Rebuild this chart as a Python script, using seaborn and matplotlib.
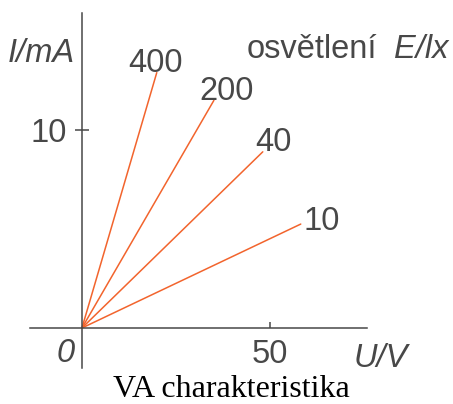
import matplotlib
matplotlib.use('Agg')
import matplotlib.pyplot as plt
import seaborn as sns
import pandas as pd

# illuminance E/lx of each curve and the end point of each line (U in V, I in mA)
lux = [400, 200, 40, 10]
u_end = [19.9, 35.1, 48.1, 58.2]
i_end = [12.9, 11.5, 8.9, 5.25]

x_ticks = [50]
y_ticks = [10]

# every characteristic starts in the origin
rows = []
for e, u, i in zip(lux, u_end, i_end):
    rows.append({'E': e, 'U': 0.0, 'I': 0.0})
    rows.append({'E': e, 'U': u, 'I': i})
df = pd.DataFrame(rows)

sns.set_style('white')
plt.rcParams['font.family'] = ['Liberation Sans', 'DejaVu Sans']

W, H = 453, 404
line_color = '#f2642d'
ink = '#484848'
fs = 23.5

fig = plt.figure(figsize=(W / 100, H / 100), dpi=100)
ax = fig.add_axes([0, 0, 1, 1])

sns.lineplot(data=df, x='U', y='I', hue='E', palette=[line_color] * len(lux),
             legend=False, ax=ax, linewidth=1.1)

ax.set_xlim(-21.8, 98.7)
ax.set_ylim(-3.84, 16.57)
ax.set_xlabel('')
ax.set_ylabel('')

# axes as a cross through the origin
for side in ['top', 'right']:
    ax.spines[side].set_visible(False)
ax.spines['left'].set_position(('data', 0))
ax.spines['bottom'].set_position(('data', 0))
ax.spines['left'].set_bounds(-2.0, 15.9)
ax.spines['bottom'].set_bounds(-13.8, 75.8)
for side in ['left', 'bottom']:
    ax.spines[side].set_color(ink)
    ax.spines[side].set_linewidth(1.1)

ax.set_xticks(x_ticks)
ax.set_xticklabels([str(t) for t in x_ticks])
ax.set_yticks(y_ticks)
ax.set_yticklabels([str(t) for t in y_ticks])
ax.tick_params(axis='y', direction='inout', length=9.4, width=1.1, color=ink,
               pad=6.5, labelsize=fs, labelcolor=ink, left=True)
ax.tick_params(axis='x', direction='in', length=4.3, width=1.1, color=ink,
               pad=8, labelsize=fs, labelcolor=ink, bottom=True)

# curve labels next to the line ends (offsets in pixels)
offsets = [(-29, 1), (-15, 0), (-8, 1), (3, -6)]
for e, u, i, (dx, dy) in zip(lux, u_end, i_end, offsets):
    ax.annotate(str(e), xy=(u, i), xytext=(dx * 0.72, dy * 0.72),
                textcoords='offset points', ha='left', va='baseline',
                fontsize=fs, color=ink)


def px(x, y):
    return x / W, 1 - y / H


fig.text(*px(8, 62), 'I/mA', fontsize=fs, style='italic', color=ink,
         ha='left', va='baseline')
fig.text(*px(66, 362), '0', fontsize=fs, style='italic', color=ink,
         ha='center', va='baseline')
fig.text(*px(354, 367), 'U/V', fontsize=fs, style='italic', color=ink,
         ha='left', va='baseline')
fig.text(*px(247, 58), 'osvětlení', fontsize=fs, color=ink,
         ha='left', va='baseline')
fig.text(*px(394, 58), 'E/lx', fontsize=fs, style='italic', color=ink,
         ha='left', va='baseline')
fig.text(*px(231, 397), 'VA charakteristika', fontsize=23,
         family=['Liberation Serif', 'DejaVu Serif'], color='black',
         ha='center', va='baseline')

fig.savefig('out.png', dpi=100)
